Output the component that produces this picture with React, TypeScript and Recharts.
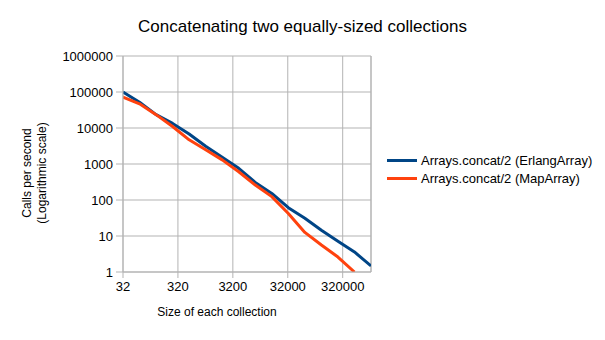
import React from "react"
import {
  LineChart,
  Line,
  XAxis,
  YAxis,
  CartesianGrid,
  ReferenceLine,
} from "recharts"

// collection sizes: powers of two from 32 up to 1048576
const sizes = [
  32, 64, 128, 256, 512, 1024, 2048, 4096, 8192, 16384, 32768, 65536, 131072,
  262144, 524288, 1048576,
]
const erlangArray = [
  100000, 52000, 23500, 13400, 6800, 3100, 1550, 760, 307, 152, 61, 31, 14.5,
  7.2, 3.6, 1.47,
]
const mapArray = [
  72500, 47000, 23500, 11000, 4700, 2500, 1300, 610, 260, 124, 42, 12.6, 5.6,
  2.6, 1.0,
]
const xTicks = [32, 320, 3200, 32000, 320000]
const yTicks = [1, 10, 100, 1000, 10000, 100000, 1000000]

const seriesNames = ["Arrays.concat/2 (ErlangArray)", "Arrays.concat/2 (MapArray)"]
const BLUE = "#004586"
const ORANGE = "#ff420e"
const GRID = "#b3b3b3"
const FONT = "'Liberation Sans', Arial, sans-serif"

const data = sizes.map((size, i) => ({
  size,
  erlang: erlangArray[i],
  map: i < mapArray.length ? mapArray[i] : null,
}))

export default function App() {
  return (
    <div
      style={{
        position: "absolute",
        left: 0,
        top: 0,
        width: 605,
        height: 340,
        background: "#fff",
        fontFamily: FONT,
        color: "#000",
      }}
    >
      <LineChart
        width={605}
        height={340}
        data={data}
        margin={{ top: 56, right: 234, bottom: 38, left: 63 }}
      >
        <CartesianGrid stroke={GRID} strokeWidth={1} />
        <XAxis
          dataKey="size"
          type="number"
          scale="log"
          domain={[32, 1048576]}
          allowDataOverflow
          ticks={xTicks}
          height={30}
          stroke={GRID}
          tickSize={6}
          tickMargin={4}
          tick={{ fill: "#000", fontSize: 13, fontFamily: FONT }}
        />
        <YAxis
          type="number"
          scale="log"
          domain={[1, 1000000]}
          allowDataOverflow
          ticks={yTicks}
          width={60}
          stroke={GRID}
          tickSize={7}
          tickMargin={3}
          tick={{ fill: "#000", fontSize: 13, fontFamily: FONT }}
        />
        <ReferenceLine x={1048576} stroke={GRID} ifOverflow="visible" />
        <Line
          dataKey="erlang"
          stroke={BLUE}
          strokeWidth={3}
          dot={false}
          isAnimationActive={false}
          strokeLinejoin="round"
        />
        <Line
          dataKey="map"
          stroke={ORANGE}
          strokeWidth={3}
          dot={false}
          isAnimationActive={false}
          strokeLinejoin="round"
        />
      </LineChart>

      {/* title */}
      <div
        style={{
          position: "absolute",
          left: 0,
          width: 605,
          top: 17,
          textAlign: "center",
          fontSize: 17,
        }}
      >
        Concatenating two equally-sized collections
      </div>

      {/* x axis title */}
      <div
        style={{
          position: "absolute",
          left: 117,
          width: 200,
          top: 305,
          textAlign: "center",
          fontSize: 12,
        }}
      >
        Size of each collection
      </div>

      {/* y axis title, rotated */}
      <div
        style={{
          position: "absolute",
          left: 36 - 80,
          top: 173 - 16,
          width: 160,
          height: 32,
          transform: "rotate(-90deg)",
          textAlign: "center",
          fontSize: 12,
          lineHeight: "15px",
        }}
      >
        Calls per second
        <br />
        (Logarithmic scale)
      </div>

      {/* legend */}
      <div style={{ position: "absolute", left: 387, top: 151, fontSize: 13 }}>
        {seriesNames.map((name, i) => (
          <div
            key={name}
            style={{ display: "flex", alignItems: "center", height: 18.5 }}
          >
            <div
              style={{
                width: 30,
                height: 3,
                background: i === 0 ? BLUE : ORANGE,
                marginRight: 4,
              }}
            />
            <span>{name}</span>
          </div>
        ))}
      </div>
    </div>
  )
}
